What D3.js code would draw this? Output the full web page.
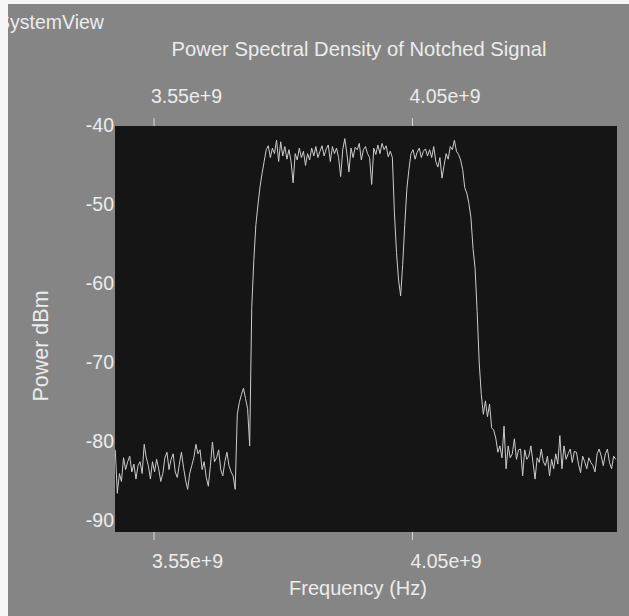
<!DOCTYPE html>
<html>
<head>
<meta charset="utf-8">
<script src="https://cdn.jsdelivr.net/npm/d3@7"></script>
<style>
  html, body { margin: 0; padding: 0; background: #858585; }
  svg { display: block; }
  text { font-family: "Liberation Sans", Arial, Helvetica, sans-serif; fill: #ececec; }
</style>
</head>
<body>
<svg id="chart"></svg>
<script>
// PSD bins: start frequency and spacing (Hz), then power per bin (dBm)
const freqStart = 3.476e9;
const freqStep = 4e6;

const power = [
  // noise floor below the band
  -81.0, -86.5, -84.0, -85.0, -82.0, -83.5, -82.5, -81.8, -83.8, -82.8,
  -84.7, -83.0, -82.5, -84.0, -80.3, -82.0, -83.0, -84.7, -82.5, -83.8,
  -82.2, -83.4, -85.0, -84.0, -82.0, -81.3, -83.5, -82.2, -81.5, -83.8,
  -84.5, -82.8, -81.3, -83.2, -84.8, -86.0, -84.0, -83.0, -82.0, -80.3,
  -81.5, -81.0, -83.5, -82.5, -84.5, -85.6, -83.0, -80.0, -82.5, -82.0,
  -81.0, -83.5, -84.3, -82.5, -81.3, -83.0, -83.8, -84.3, -86.0,
  // small shoulder and rising edge
  -76.5, -75.0, -74.0, -73.2, -74.5, -75.8, -80.5,
  -63.0, -57.0, -52.5, -50.0, -47.7, -46.0, -44.5, -43.0,
  // lower passband
  -42.5, -44.0, -42.8, -43.5, -41.8, -44.5, -42.0, -43.8, -42.6, -44.2,
  -43.0, -44.5, -47.2, -43.5, -44.3, -42.8, -44.0, -43.2, -45.0, -43.5,
  -44.3, -42.8, -43.8, -42.6, -44.0, -43.2, -42.5, -43.8, -42.9, -42.4,
  -44.5, -42.6, -43.5, -42.8, -44.0, -46.4, -43.0, -41.6, -43.5, -45.8,
  -42.8, -44.0, -42.7, -43.0, -42.2, -44.3, -43.0, -42.6, -43.5, -44.0,
  -47.4, -42.8, -43.6, -42.4, -43.5, -42.2, -43.0, -42.5, -43.9, -43.2,
  -44.0,
  // notch
  -51.0, -56.0, -59.5, -61.5, -57.5, -52.5, -48.0, -45.5, -43.5,
  // upper passband
  -43.0, -44.2, -43.3, -42.8, -44.0, -43.2, -42.9, -43.8, -43.0, -44.0,
  -42.6, -44.5, -45.2, -44.0, -46.6, -45.0, -43.5, -44.2, -42.6, -43.0,
  -41.8, -43.2, -43.6, -44.3,
  // falling edge
  -45.5, -47.8, -48.5, -49.8, -51.6, -55.5, -58.0, -63.5, -70.0, -74.0,
  -76.5, -74.8, -76.8, -75.2, -78.2, -78.5, -79.5, -81.3,
  // noise floor above the band
  -80.5, -82.0, -78.0, -83.4, -80.5, -82.0, -81.5, -79.6, -82.2, -81.0,
  -80.9, -84.3, -81.0, -82.2, -81.8, -80.5, -82.6, -84.7, -82.0, -82.6,
  -80.9, -82.5, -83.0, -81.8, -84.3, -82.2, -83.4, -81.5, -82.8, -79.2,
  -83.4, -80.5, -82.2, -81.5, -80.9, -82.6, -81.2, -81.3, -82.8, -83.9,
  -81.8, -82.5, -83.4, -82.0, -82.6, -83.0, -83.8, -81.5, -80.9, -81.8,
  -83.0, -81.5, -80.9, -82.6, -83.4, -81.8, -82.2
];

const xTicks = [3.55e9, 4.05e9];
const yTicks = [-40, -50, -60, -70, -80, -90];

const W = 629, H = 616;
const plot = {left: 115, right: 617, top: 126, bottom: 532};

const data = power.map((p, i) => ({f: freqStart + i * freqStep, p: p}));

const svg = d3.select("#chart").attr("width", W).attr("height", H);

// window background
svg.append("rect").attr("width", W).attr("height", H).attr("fill", "#858585");

const x = d3.scaleLinear().domain([3.4755e9, 4.4465e9]).range([plot.left, plot.right]);
const y = d3.scaleLinear().domain([-91.4, -40]).range([plot.bottom, plot.top]);

// plot area
svg.append("rect")
  .attr("x", plot.left).attr("y", plot.top)
  .attr("width", plot.right - plot.left).attr("height", plot.bottom - plot.top)
  .attr("fill", "#151515");

svg.append("clipPath").attr("id", "clip")
  .append("rect")
  .attr("x", plot.left).attr("y", plot.top)
  .attr("width", plot.right - plot.left).attr("height", plot.bottom - plot.top);

svg.append("path")
  .datum(data)
  .attr("clip-path", "url(#clip)")
  .attr("fill", "none")
  .attr("stroke", "#cccccc")
  .attr("stroke-width", 1)
  .attr("d", d3.line().x(d => x(d.f)).y(d => y(d.p)));

// axes
const fmt = d3.format(".2e");
const fmtY = d => String(d);   // plain hyphen, as in the original

const axTop = svg.append("g")
  .attr("transform", `translate(0,${plot.top})`)
  .call(d3.axisTop(x).tickValues(xTicks).tickFormat(fmt).tickSize(8).tickPadding(15));
const axBottom = svg.append("g")
  .attr("transform", `translate(0,${plot.bottom})`)
  .call(d3.axisBottom(x).tickValues(xTicks).tickFormat(fmt).tickSize(8).tickPadding(14));
const axLeft = svg.append("g")
  .attr("transform", `translate(${plot.left},0)`)
  .call(d3.axisLeft(y).tickValues(yTicks).tickFormat(fmtY).tickSize(0).tickPadding(1));

[axTop, axBottom, axLeft].forEach(g => {
  g.select(".domain").remove();
  g.selectAll(".tick line").attr("stroke", "#d8d8d8");
  g.selectAll(".tick text")
    .attr("fill", "#ececec")
    .style("font-size", "19.5px")
    .style("font-family", "'Liberation Sans', Arial, sans-serif");
});
axTop.selectAll(".tick text").attr("text-anchor", "start").attr("dx", "-3");
axBottom.selectAll(".tick text").attr("text-anchor", "start").attr("dx", "-2");
axLeft.selectAll(".tick text").attr("dy", "0.3em");

// titles
svg.append("text")
  .attr("x", 359).attr("y", 56)
  .attr("text-anchor", "middle")
  .style("font-size", "20.2px")
  .text("Power Spectral Density of Notched Signal");

svg.append("text")
  .attr("x", 358).attr("y", 595)
  .attr("text-anchor", "middle")
  .style("font-size", "20px")
  .text("Frequency (Hz)");

svg.append("text")
  .attr("transform", "translate(48,346) rotate(-90)")
  .attr("text-anchor", "middle")
  .style("font-size", "21.5px")
  .text("Power dBm");

svg.append("text")
  .attr("x", -3).attr("y", 29)
  .style("font-size", "19.5px")
  .text("SystemView");

// white edges of the captured window
svg.append("rect").attr("x", 0).attr("y", 0).attr("width", 8).attr("height", H).attr("fill", "#f6f6f6");
svg.append("rect").attr("x", 0).attr("y", 0).attr("width", W).attr("height", 4).attr("fill", "#f6f6f6");
</script>
</body>
</html>
